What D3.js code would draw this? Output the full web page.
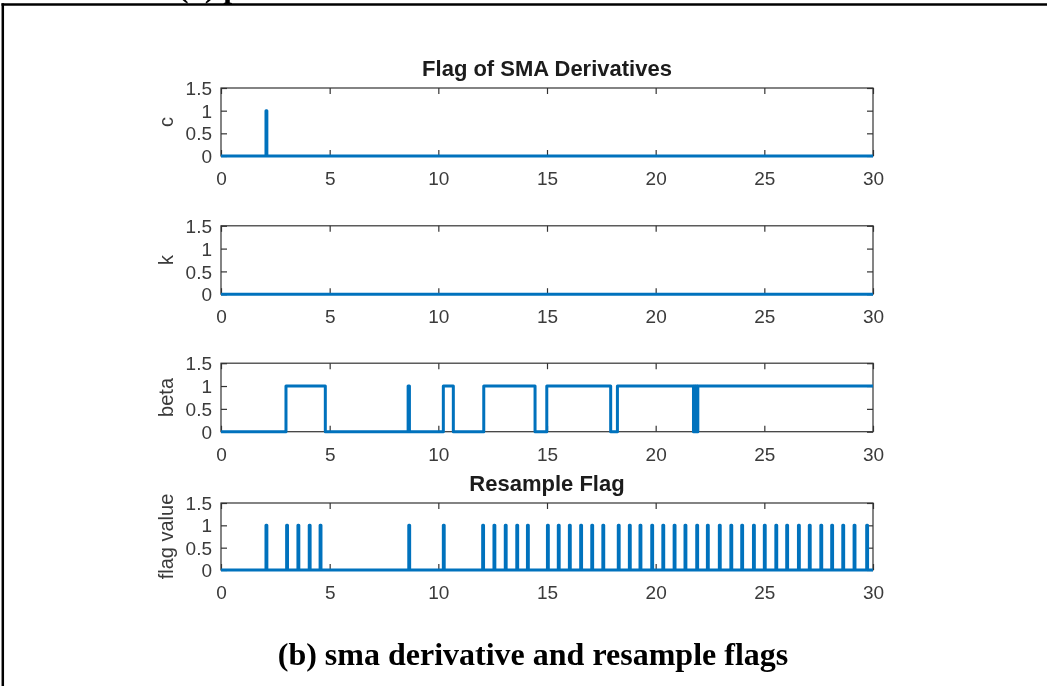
<!DOCTYPE html>
<html>
<head>
<meta charset="utf-8">
<script src="https://cdn.jsdelivr.net/npm/d3@7"></script>
<style>
  html, body { margin: 0; padding: 0; background: #fff; }
  svg { display: block; }
  .tick-label { font-family: "Liberation Sans", Arial, sans-serif; font-size: 19px; fill: #3a3a3a; }
  .axis-label { font-family: "Liberation Sans", Arial, sans-serif; font-size: 20px; fill: #3a3a3a; }
  .panel-title { font-family: "Liberation Sans", Arial, sans-serif; font-size: 22px; font-weight: bold; fill: #1a1a1a; }
  .caption { font-family: "Liberation Serif", "Times New Roman", serif; font-size: 32px; font-weight: bold; fill: #000; }
</style>
</head>
<body>
<svg id="chart" width="1047" height="686"></svg>
<script>
// ---- data -------------------------------------------------------------
const xTicks = [0, 5, 10, 15, 20, 25, 30];
const yTicks = [0, 0.5, 1, 1.5];
const yTickLabels = ["0", "0.5", "1", "1.5"];

// moments (s) where the c-derivative flag fires
const cFlagTimes = [2.07];
// the k-derivative flag never fires
const kFlagTimes = [];
// beta flag: switching instants and the value held after each one
const betaSwitchTimes  = [0, 2.99, 4.80, 8.61, 8.67, 10.23, 10.69, 12.09, 14.45, 14.99, 17.93, 18.24, 21.74, 21.78, 21.82, 21.86, 21.90, 21.94, 21.98, 30];
const betaSwitchValues = [0, 1,    0,    1,    0,    1,     0,     1,     0,     1,     0,     1,     0,     1,     0,     1,     0,     1,     1,     1];
// moments (s) where a resample is triggered
const resampleFlagTimes = [2.07, 3.02, 3.54, 4.06, 4.56, 8.64, 10.23, 12.04, 12.56, 13.08, 13.61, 14.10,
  15.02, 15.52, 16.03, 16.55, 17.06, 17.57, 18.28, 18.79, 19.28, 19.82, 20.33, 20.85, 21.35, 21.89,
  22.38, 22.93, 23.46, 23.96, 24.50, 25.00, 25.53, 26.03, 26.57, 27.07, 27.60, 28.10, 28.61, 29.13, 29.71];

const timeEnd = 30;
const pulseWidth = 0.04;

// turn a list of firing instants into a 0/1 step series
function pulseSeries(times) {
  const pts = [{ t: 0, v: 0 }];
  times.forEach(t => { pts.push({ t: t, v: 1 }); pts.push({ t: t + pulseWidth, v: 0 }); });
  pts.push({ t: timeEnd, v: 0 });
  return pts;
}
const betaSeries = betaSwitchTimes.map((t, i) => ({ t: t, v: betaSwitchValues[i] }));

// ---- layout -----------------------------------------------------------
const svg = d3.select("#chart");

// soft rendering of the figure area
const defs = svg.append("defs");
defs.append("filter").attr("id", "soft")
  .attr("x", "-5%").attr("y", "-5%").attr("width", "110%").attr("height", "110%")
  .append("feGaussianBlur").attr("stdDeviation", 0.45);

const fig = svg.append("g").attr("filter", "url(#soft)");

const left = 221, right = 873;
const x = d3.scaleLinear().domain([0, 30]).range([left, right]);

const panels = [
  { label: "c",          top: 88,    height: 68,   series: pulseSeries(cFlagTimes),        title: "Flag of SMA Derivatives" },
  { label: "k",          top: 225.8, height: 68.4, series: pulseSeries(kFlagTimes) },
  { label: "beta",       top: 363.2, height: 68.5, series: betaSeries },
  { label: "flag value", top: 503,   height: 67,   series: pulseSeries(resampleFlagTimes), title: "Resample Flag" }
];

const axisColor = "#333";
const tickLen = 6;
const lineColor = "#0072BD";

panels.forEach(p => {
  const y = d3.scaleLinear().domain([0, 1.5]).range([p.top + p.height, p.top]);
  const g = fig.append("g");

  // box
  g.append("rect")
    .attr("x", left).attr("y", p.top)
    .attr("width", right - left).attr("height", p.height)
    .attr("fill", "none").attr("stroke", axisColor).attr("stroke-width", 1.2);

  // inward ticks on all four sides
  const xAxisBottom = d3.axisBottom(x).tickValues(xTicks).tickSizeInner(-tickLen).tickSizeOuter(0).tickFormat(d => d);
  const xAxisTop = d3.axisTop(x).tickValues(xTicks).tickSizeInner(-tickLen).tickSizeOuter(0).tickFormat("");
  const yAxisLeft = d3.axisLeft(y).tickValues(yTicks).tickSizeInner(-tickLen).tickSizeOuter(0).tickFormat((d, i) => yTickLabels[i]);
  const yAxisRight = d3.axisRight(y).tickValues(yTicks).tickSizeInner(-tickLen).tickSizeOuter(0).tickFormat("");

  const gb = g.append("g").attr("transform", `translate(0,${p.top + p.height})`).call(xAxisBottom);
  const gt = g.append("g").attr("transform", `translate(0,${p.top})`).call(xAxisTop);
  const gl = g.append("g").attr("transform", `translate(${left},0)`).call(yAxisLeft);
  const gr = g.append("g").attr("transform", `translate(${right},0)`).call(yAxisRight);

  [gb, gt, gl, gr].forEach(a => {
    a.select(".domain").remove();
    a.selectAll(".tick line").attr("stroke", axisColor).attr("stroke-width", 1.2);
    a.attr("font-size", null).attr("font-family", null);
  });
  gb.selectAll(".tick text").attr("class", "tick-label").attr("y", 29).attr("dy", null).attr("fill", null);
  gl.selectAll(".tick text").attr("class", "tick-label").attr("x", -9).attr("dy", "0.35em").attr("fill", null);

  // y label
  g.append("text")
    .attr("class", "axis-label")
    .attr("transform", `translate(173,${p.top + p.height / 2}) rotate(-90)`)
    .attr("text-anchor", "middle")
    .text(p.label);

  // title
  if (p.title) {
    g.append("text")
      .attr("class", "panel-title")
      .attr("x", (left + right) / 2)
      .attr("y", p.top - 12)
      .attr("text-anchor", "middle")
      .text(p.title);
  }

  // flag trace
  const line = d3.line().x(d => x(d.t)).y(d => y(d.v)).curve(d3.curveStepAfter);
  g.append("path")
    .datum(p.series)
    .attr("d", line)
    .attr("fill", "none")
    .attr("stroke", lineColor)
    .attr("stroke-width", 3)
    .attr("stroke-linejoin", "round");
});

// ---- page frame and captions -----------------------------------------
svg.append("text")
  .attr("class", "caption")
  .attr("x", 178).attr("y", -3.5)
  .text("(a) p");

svg.append("line").attr("x1", 1.5).attr("x2", 1047).attr("y1", 4.5).attr("y2", 4.5)
  .attr("stroke", "#000").attr("stroke-width", 2.5);
svg.append("line").attr("x1", 2.8).attr("x2", 2.8).attr("y1", 3.3).attr("y2", 686)
  .attr("stroke", "#000").attr("stroke-width", 2.5);

svg.append("text")
  .attr("class", "caption")
  .attr("x", 533).attr("y", 665)
  .attr("text-anchor", "middle")
  .text("(b) sma derivative and resample flags");
</script>
</body>
</html>
